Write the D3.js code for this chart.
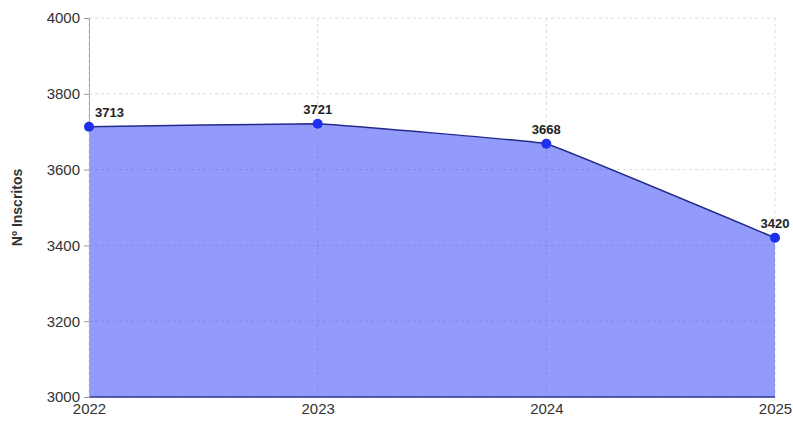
<!DOCTYPE html>
<html>
<head>
<meta charset="utf-8">
<script src="https://cdn.jsdelivr.net/npm/d3@7"></script>
<style>
  html, body { margin: 0; padding: 0; background: #fff; }
  svg { display: block; font-family: "Liberation Sans", Arial, Helvetica, sans-serif; }
</style>
</head>
<body>
<svg id="chart" width="793" height="421"></svg>
<script>
// Enrolment per year
const years = [2022, 2023, 2024, 2025];
const inscritos = [3713, 3721, 3668, 3420];
const yTicks = [3000, 3200, 3400, 3600, 3800, 4000];
const yTitle = "Nº Inscritos";

const W = 793, H = 421;
const margin = { top: 18, right: 18, bottom: 24, left: 89 };
const svg = d3.select("#chart");

const x = d3.scaleLinear()
  .domain(d3.extent(years))
  .range([margin.left, W - margin.right]);
const y = d3.scaleLinear()
  .domain([3000, 4000])
  .range([H - margin.bottom, margin.top]);

const data = years.map((yr, i) => ({ year: yr, value: inscritos[i] }));

// grid
const grid = svg.append("g");
grid.selectAll(".hg").data(yTicks).join("line")
  .attr("x1", margin.left).attr("x2", W - margin.right)
  .attr("y1", d => y(d)).attr("y2", d => y(d))
  .attr("stroke", "#dcdcdc").attr("stroke-dasharray", "3,3");
grid.selectAll(".vg").data(years).join("line")
  .attr("x1", d => x(d)).attr("x2", d => x(d))
  .attr("y1", margin.top).attr("y2", H - margin.bottom)
  .attr("stroke", "#dcdcdc").attr("stroke-dasharray", "3,3");

// area + line, lightly smoothed
const curve = d3.curveCardinal.tension(0.85);
const area = d3.area()
  .x(d => x(d.year)).y0(y(3000)).y1(d => y(d.value)).curve(curve);
const line = d3.line()
  .x(d => x(d.year)).y(d => y(d.value)).curve(curve);

svg.append("path").datum(data)
  .attr("d", area)
  .attr("fill", "rgba(40,55,245,0.5)");
svg.append("path").datum(data)
  .attr("d", line)
  .attr("fill", "none")
  .attr("stroke", "#232a8c")
  .attr("stroke-width", 1.5);

// baseline
svg.append("line")
  .attr("x1", margin.left).attr("x2", W - margin.right)
  .attr("y1", y(3000)).attr("y2", y(3000))
  .attr("stroke", "#2e3590").attr("stroke-width", 1.5);

// y axis
const yAxis = d3.axisLeft(y).tickValues(yTicks).tickFormat(d3.format("d")).tickSize(5).tickPadding(4);
const gy = svg.append("g").attr("transform", `translate(${margin.left},0)`).call(yAxis);
gy.select(".domain").attr("stroke", "#aaa");
gy.selectAll(".tick line").attr("stroke", "#999");
gy.selectAll(".tick text").attr("fill", "#333").attr("font-size", 15);

// x axis
const xAxis = d3.axisBottom(x).tickValues(years).tickFormat(d3.format("d")).tickSize(0).tickPadding(6);
const gx = svg.append("g").attr("transform", `translate(0,${H - margin.bottom})`).call(xAxis);
gx.select(".domain").remove();
gx.selectAll(".tick text").attr("fill", "#333").attr("font-size", 15);

// y title
svg.append("text")
  .attr("transform", `translate(22,${(margin.top + H - margin.bottom) / 2}) rotate(-90)`)
  .attr("text-anchor", "middle")
  .attr("font-size", 14).attr("font-weight", "bold").attr("fill", "#333")
  .text(yTitle);

// points
svg.selectAll(".pt").data(data).join("circle")
  .attr("cx", d => x(d.year)).attr("cy", d => y(d.value))
  .attr("r", 5).attr("fill", "#1e2ff0");

// value labels
svg.selectAll(".lbl").data(data).join("text")
  .attr("x", (d, i) => i === 0 ? x(d.year) + 6 : x(d.year))
  .attr("y", d => y(d.value) - 10)
  .attr("text-anchor", (d, i) => i === 0 ? "start" : "middle")
  .attr("font-size", 13).attr("font-weight", "bold").attr("fill", "#222")
  .text(d => d.value);
</script>
</body>
</html>
